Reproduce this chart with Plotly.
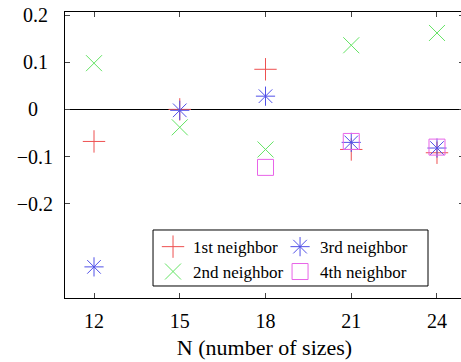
import plotly.graph_objects as go

sizes = [12, 15, 18, 21, 24]
first_nb = [-0.068, 0.0, 0.085, -0.085, -0.092]
second_nb = [0.098, -0.038, -0.085, 0.136, 0.162]
third_nb = [-0.334, -0.002, 0.028, -0.07, -0.082]
fourth_x = [18, 21, 24]
fourth_nb = [-0.123, -0.068, -0.08]

y_tickvals = [0.2, 0.1, 0.0, -0.1, -0.2]
y_ticktext = ["0.2\u00a0", "0.1\u00a0", "0\u00a0\u00a0\u00a0", "\u22120.1", "\u22120.2"]

FONT = "Liberation Serif"
tickfont = dict(family=FONT, size=20, color="black")
legfont = dict(family=FONT, size=17, color="black")

RED = "rgb(238,80,80)"
GREEN = "rgb(100,228,100)"
BLUE = "rgb(80,80,232)"
MAGENTA = "rgb(232,100,232)"

fig = go.Figure()
fig.add_trace(go.Scatter(x=sizes, y=first_nb, mode="markers", name="1st neighbor",
                         legend="legend",
                         marker=dict(symbol="cross-thin-open", size=16, color=RED,
                                     line=dict(color=RED, width=1))))
fig.add_trace(go.Scatter(x=sizes, y=second_nb, mode="markers", name="2nd neighbor",
                         legend="legend2",
                         marker=dict(symbol="x-thin-open", size=16, color=GREEN,
                                     line=dict(color=GREEN, width=1))))
fig.add_trace(go.Scatter(x=sizes, y=third_nb, mode="markers", name="3rd neighbor",
                         legend="legend3",
                         marker=dict(symbol="asterisk-open", size=16, color=BLUE,
                                     line=dict(color=BLUE, width=1))))
fig.add_trace(go.Scatter(x=fourth_x, y=fourth_nb, mode="markers", name="4th neighbor",
                         legend="legend4",
                         marker=dict(symbol="square-open", size=16, color=MAGENTA,
                                     line=dict(color=MAGENTA, width=1))))

leg_common = dict(xanchor="left", yanchor="middle", borderwidth=0,
                  bgcolor="rgba(0,0,0,0)", font=legfont)
col1_x, col2_x = 0.2206, 0.539
row1_y, row2_y = 0.178, 0.091

fig.update_layout(
    width=466, height=362,
    margin=dict(l=65, r=2, t=12, b=64, autoexpand=False),
    paper_bgcolor="white", plot_bgcolor="white",
    font=dict(family=FONT, size=20, color="black"),
    showlegend=True,
    legend=dict(x=col1_x, y=row1_y, **leg_common),
    legend2=dict(x=col1_x, y=row2_y, **leg_common),
    legend3=dict(x=col2_x, y=row1_y, **leg_common),
    legend4=dict(x=col2_x, y=row2_y, **leg_common),
    shapes=[dict(type="rect", xref="paper", yref="paper",
                 x0=0.2206, x1=0.9098, y0=0.042, y1=0.2378,
                 line=dict(color="black", width=1), fillcolor="white", layer="above")],
)
fig.update_xaxes(range=[10.985, 24.945], tickvals=sizes, ticks="inside", ticklen=5,
                 tickfont=tickfont, automargin=False,
                 showline=True, linecolor="black", linewidth=1, mirror="ticks",
                 showgrid=False, zeroline=False, ticklabelstandoff=5,
                 title=dict(text="N (number of sizes)", standoff=8,
                            font=dict(family=FONT, size=22, color="black")))
fig.update_yaxes(range=[-0.4, 0.2065], tickvals=y_tickvals, ticktext=y_ticktext,
                 tickfont=tickfont, ticklabeloverflow="allow", automargin=False,
                 ticks="inside", ticklen=5, showline=True, linecolor="black",
                 linewidth=1, mirror="ticks", showgrid=False,
                 zeroline=True, zerolinecolor="black", zerolinewidth=1.2,
                 ticklabelstandoff=7)

fig.write_html("out.html", config={"displayModeBar": False},
               post_script="document.body.style.margin='0px';document.body.style.overflow='hidden';")
